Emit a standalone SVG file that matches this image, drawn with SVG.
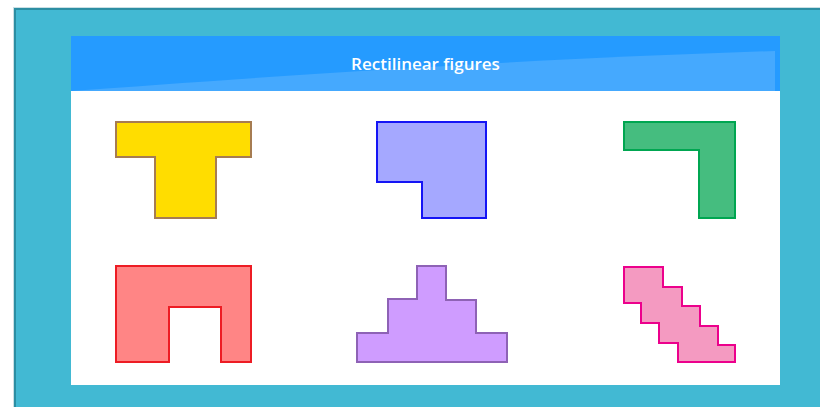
<svg xmlns="http://www.w3.org/2000/svg" width="820" height="407" viewBox="0 0 820 407">
  <style>
    .shape { stroke-width: 2; stroke-linejoin: miter; }
    .title { font-family: "Open Sans", "Liberation Sans", sans-serif; font-size: 17px; font-weight: 600; fill: #ffffff; }
  </style>
  <rect x="0" y="0" width="820" height="407" fill="#ffffff"/>
  <g id="frame">
    <rect x="13" y="7" width="807" height="400" fill="#c9dfe4"/>
    <rect x="14" y="8" width="806" height="399" fill="#2c8ea3"/>
    <rect x="16" y="10" width="804" height="397" fill="#42b9d3"/>
  </g>
  <g id="panel">
    <rect x="71" y="36" width="709" height="349" fill="#ffffff"/>
    <rect x="71" y="36" width="709" height="55" fill="#259bff"/>
    <path d="M71,91 C250,78 500,60 775,51 L775,91 Z" fill="#45a9fe"/>
    <text class="title" x="425.5" y="70" text-anchor="middle">Rectilinear figures</text>
  </g>
  <g id="t-shape">
    <polygon class="shape" fill="#ffdd00" stroke="#a67c52" points="116,122 251,122 251,157 216,157 216,218 155,218 155,157 116,157"/>
  </g>
  <g id="blue-shape">
    <polygon class="shape" fill="#a5a8ff" stroke="#1414f5" points="377,122 486,122 486,218 422,218 422,182 377,182"/>
  </g>
  <g id="green-shape">
    <polygon class="shape" fill="#45bd7f" stroke="#00a651" points="624,122 735,122 735,218 699,218 699,150 624,150"/>
  </g>
  <g id="red-shape">
    <polygon class="shape" fill="#ff8585" stroke="#ed1c24" points="116,266 251,266 251,362 221,362 221,307 169,307 169,362 116,362"/>
  </g>
  <g id="purple-shape">
    <polygon class="shape" fill="#cf9cff" stroke="#8e62b5" points="357,333 388,333 388,299 417,299 417,266 446,266 446,300 476,300 476,333 507,333 507,362 357,362"/>
  </g>
  <g id="pink-shape">
    <polygon class="shape" fill="#f49ac1" stroke="#ec008c" points="624,267 663,267 663,287 682,287 682,306 700,306 700,326 718,326 718,345 735,345 735,362 678,362 678,343 659,343 659,323 641,323 641,303 624,303"/>
  </g>
  <g id="connectors"></g>
</svg>
